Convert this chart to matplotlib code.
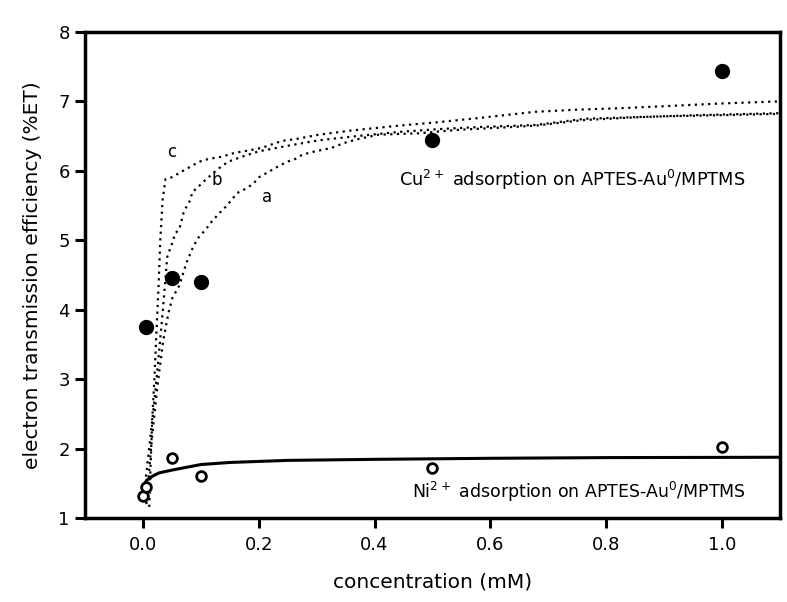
import matplotlib
matplotlib.use("Agg")
import matplotlib.pyplot as plt

# measured points
cu_x = [0.005, 0.05, 0.1, 0.5, 1.0]
cu_y = [3.75, 4.46, 4.40, 6.45, 7.43]

ni_x = [0.0, 0.005, 0.05, 0.1, 0.5, 1.0]
ni_y = [1.31, 1.45, 1.86, 1.61, 1.72, 2.02]

# fitted curves
curve_a_x = [0.006, 0.015, 0.025, 0.035, 0.044, 0.051, 0.063, 0.075, 0.085, 0.094, 0.109,
             0.118, 0.132, 0.144, 0.154, 0.163, 0.177, 0.19, 0.201, 0.214, 0.235, 0.249,
             0.263, 0.275, 0.292, 0.326, 0.347, 0.373, 0.407, 0.476, 0.545, 0.614, 0.678,
             0.76, 0.85, 0.95, 1.1]
curve_a_y = [1.2, 2.1, 2.9, 3.55, 3.95, 4.17, 4.35, 4.67, 4.87, 5.02, 5.16,
             5.26, 5.39, 5.49, 5.59, 5.68, 5.74, 5.81, 5.91, 5.97, 6.07, 6.13,
             6.17, 6.23, 6.27, 6.33, 6.40, 6.46, 6.52, 6.54, 6.59, 6.62, 6.65,
             6.73, 6.77, 6.80, 6.83]

curve_b_x = [0.004, 0.012, 0.02, 0.028, 0.034, 0.042, 0.051, 0.056, 0.063, 0.066, 0.07,
             0.075, 0.082, 0.085, 0.097, 0.108, 0.132, 0.147, 0.17, 0.2, 0.25, 0.304,
             0.37, 0.442, 0.51, 0.58, 0.678, 0.764, 0.878, 0.993, 1.1]
curve_b_y = [1.5, 2.1, 2.7, 3.4, 3.95, 4.76, 4.97, 5.10, 5.16, 5.26, 5.39,
             5.48, 5.58, 5.69, 5.78, 5.87, 6.04, 6.13, 6.2, 6.28, 6.36, 6.44,
             6.5, 6.56, 6.6, 6.63, 6.66, 6.75, 6.78, 6.80, 6.82]

curve_c_x = [0.011, 0.013, 0.016, 0.02, 0.023, 0.027, 0.03, 0.034, 0.039, 0.051, 0.063,
             0.078, 0.097, 0.113, 0.135, 0.159, 0.181, 0.205, 0.24, 0.266, 0.304, 0.36,
             0.442, 0.51, 0.58, 0.678, 0.75, 0.82, 0.9, 1.0, 1.1]
curve_c_y = [1.16, 1.69, 2.41, 3.03, 3.61, 4.33, 5.0, 5.58, 5.88, 5.91, 5.97,
             6.04, 6.13, 6.17, 6.2, 6.26, 6.29, 6.33, 6.43, 6.46, 6.52, 6.58,
             6.65, 6.7, 6.76, 6.85, 6.88, 6.9, 6.93, 6.97, 7.0]

ni_fit_x = [0.0, 0.003, 0.006, 0.016, 0.028, 0.05, 0.075, 0.1, 0.15, 0.25, 0.4, 0.6, 0.8, 1.1]
ni_fit_y = [1.3, 1.45, 1.54, 1.60, 1.65, 1.69, 1.73, 1.77, 1.80, 1.83, 1.845, 1.86, 1.87, 1.875]

x_ticks = [0.0, 0.2, 0.4, 0.6, 0.8, 1.0]
y_ticks = [1, 2, 3, 4, 5, 6, 7, 8]

fig = plt.figure(figsize=(7.87, 6.02), dpi=100)
ax = fig.add_axes([0.108, 0.1395, 0.883, 0.8075])

dot = (0, (1, 2))
for cx, cy in [(curve_a_x, curve_a_y), (curve_b_x, curve_b_y), (curve_c_x, curve_c_y)]:
    ax.plot(cx, cy, color='black', linestyle=dot, linewidth=1.6, dash_capstyle='butt')
ax.plot(ni_fit_x, ni_fit_y, color='black', linewidth=2.2)

ax.plot(cu_x, cu_y, 'o', color='black', markersize=10, linestyle='none')
ax.plot(ni_x, ni_y, 'o', markerfacecolor='white', markeredgecolor='black',
        markeredgewidth=2, markersize=7, linestyle='none')

ax.text(0.049, 6.27, 'c', fontsize=12, ha='center', va='center')
ax.text(0.127, 5.87, 'b', fontsize=12, ha='center', va='center')
ax.text(0.215, 5.62, 'a', fontsize=12, ha='center', va='center')
ax.text(0.442, 5.87, 'Cu$^{2+}$ adsorption on APTES-Au$^{0}$/MPTMS', fontsize=12.8, va='center')
ax.text(0.464, 1.37, 'Ni$^{2+}$ adsorption on APTES-Au$^{0}$/MPTMS', fontsize=12.5, va='center')

ax.set_xlim(-0.1, 1.1)
ax.set_ylim(1, 8)
ax.set_xticks(x_ticks)
ax.set_xticklabels(['0.0', '0.2', '0.4', '0.6', '0.8', '1.0'])
ax.set_yticks(y_ticks)
ax.tick_params(direction='out', length=7, width=2.2, labelsize=13)
ax.tick_params(axis='x', pad=6)
ax.tick_params(axis='y', pad=4)
for s in ax.spines.values():
    s.set_linewidth(2.5)

ax.set_xlabel('concentration (mM)', fontsize=14.5, labelpad=13)
ax.set_ylabel('electron transmission efficiency (%ET)', fontsize=14.5, labelpad=12)

plt.savefig('out.png', dpi=100)
